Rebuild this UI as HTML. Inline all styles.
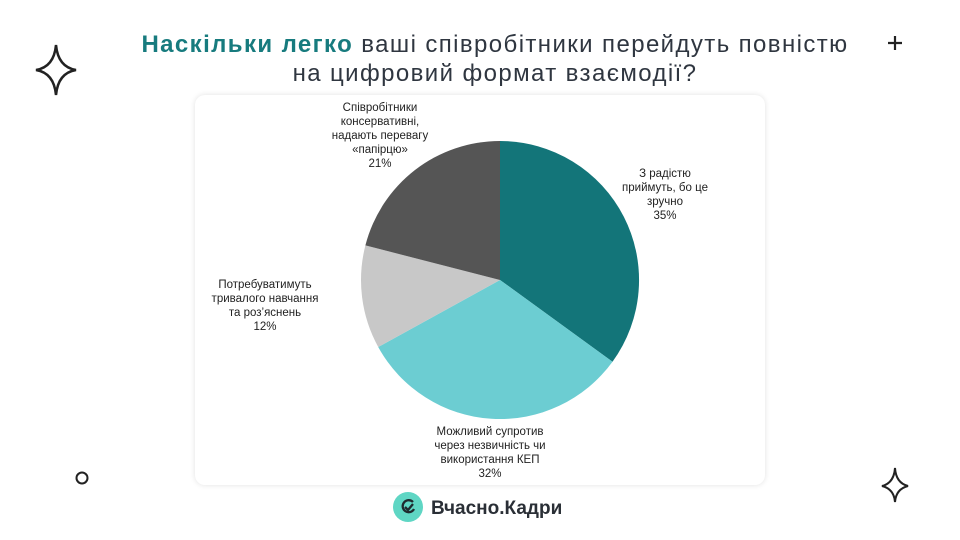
<!DOCTYPE html>
<html><head><meta charset="utf-8"><style>
body{margin:0;width:960px;height:540px;background:#fff;font-family:"Liberation Sans",sans-serif;overflow:hidden;position:relative}
.card{position:absolute;left:195px;top:95px;width:570px;height:390px;background:#fff;border-radius:10px;box-shadow:0 0 6px rgba(0,0,0,0.12)}
.t{position:absolute;left:0;width:990px;text-align:center;font-size:24px;letter-spacing:1.4px;color:#2f3640;line-height:29px}
.lab{position:absolute;font-size:11.5px;color:#222;text-align:center;line-height:14px}
</style></head><body>
<div class="t" style="top:30px"><b style="color:#177b7e">Наскільки легко</b> ваші співробітники перейдуть повністю</div>
<div class="t" style="top:59px;width:990px">на цифровий формат взаємодії?</div>
<div class="card"></div>
<svg style="position:absolute;left:0;top:0" width="960" height="540">
<path d="M500,280 L500,141 A139,139 0 0 1 612.5,361.7 Z" fill="#137579"/>
<path d="M500,280 L612.5,361.7 A139,139 0 0 1 378.2,347 Z" fill="#6ccdd2"/>
<path d="M500,280 L378.2,347 A139,139 0 0 1 365.4,245.4 Z" fill="#c8c8c8"/>
<path d="M500,280 L365.4,245.4 A139,139 0 0 1 500,141 Z" fill="#555555"/>
<path d="M56,45 Q58,67 76,70 Q58,73 56,95 Q54,73 36,70 Q54,67 56,45Z" fill="none" stroke="#222" stroke-width="2.5"/>
<path d="M895,468 Q896,483 908,486 Q896,489 895,502 Q894,489 882,486 Q894,483 895,468Z" fill="none" stroke="#222" stroke-width="2"/>
<path d="M895,36 V50 M888,43 H902" stroke="#222" stroke-width="2.2"/>
<circle cx="82" cy="478" r="5.5" fill="none" stroke="#222" stroke-width="2"/>
<circle cx="408" cy="507" r="15" fill="#5fd6c4"/>
<path d="M413,502 A6,6 0 1 0 414,509" fill="none" stroke="#1f2a2f" stroke-width="2.3"/>
<path d="M405,507 L408,510 L413,504" fill="none" stroke="#1f2a2f" stroke-width="2.3"/>
<text x="431" y="514" font-family="Liberation Sans" font-weight="bold" font-size="19" fill="#2a2f36">Вчасно.Кадри</text>
</svg>
<div class="lab" style="left:310px;top:101px;width:140px">Співробітники<br>консервативні,<br>надають перевагу<br>«папірцю»<br>21%</div>
<div class="lab" style="left:610px;top:167px;width:110px">З радістю<br>приймуть, бо це<br>зручно<br>35%</div>
<div class="lab" style="left:200px;top:278px;width:130px">Потребуватимуть<br>тривалого навчання<br>та роз’яснень<br>12%</div>
<div class="lab" style="left:400px;top:425px;width:180px">Можливий супротив<br>через незвичність чи<br>використання КЕП<br>32%</div>
</body></html>
